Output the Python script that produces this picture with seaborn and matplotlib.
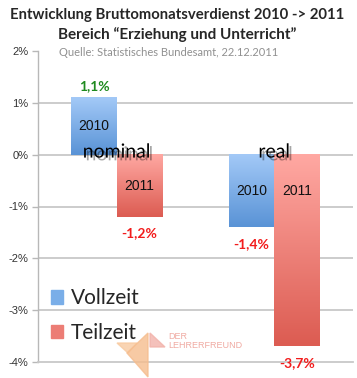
#!/usr/bin/env python3

import numpy as np
import pandas as pd
import matplotlib
matplotlib.use('Agg')
import matplotlib.pyplot as plt
import matplotlib.patheffects as pe
from matplotlib.patches import Polygon
from matplotlib.colors import LinearSegmentedColormap
import seaborn as sns

# data
categories = ['nominal', 'real']
groups = ['Vollzeit', 'Teilzeit']
years = ['2010', '2011']
vollzeit = [1.1, -1.4]
teilzeit = [-1.2, -3.7]
value_labels = {'Vollzeit': ['1,1%', '-1,4%'], 'Teilzeit': ['-1,2%', '-3,7%']}
yticks = [2, 1, 0, -1, -2, -3, -4]

# gradient colours (top, bottom) per group
grad = {'Vollzeit': ('#a3c9f7', '#5993d6'), 'Teilzeit': ('#ffa8a2', '#dc5c52')}

df = pd.DataFrame({
    'Art': categories * 2,
    'Gruppe': [groups[0]] * 2 + [groups[1]] * 2,
    'Wert': vollzeit + teilzeit,
})

sns.set_style('white')
plt.rcParams['font.family'] = ['Liberation Sans', 'DejaVu Sans']

fig = plt.figure(figsize=(3.57, 3.78), dpi=100)
ax = fig.add_axes([38 / 357, 1 - 362 / 378, 315 / 357, 311 / 378])

palette = {g: grad[g][1] for g in groups}
sns.barplot(data=df, x='Art', y='Wert', hue='Gruppe', hue_order=groups,
            palette=palette, width=0.578, gap=0, dodge=True, ax=ax,
            legend=False, zorder=2)

ax.set_xlim(-0.5, 1.5)
ax.set_ylim(-4, 2)

# replace flat bars with vertical gradients (light on top, darker below)
for g, cont in zip(groups, ax.containers):
    cmap = LinearSegmentedColormap.from_list(g, [grad[g][0], grad[g][1]])
    for i, bar in enumerate(cont):
        x0 = bar.get_x()
        x1 = x0 + bar.get_width()
        y0 = min(bar.get_y(), bar.get_y() + bar.get_height())
        y1 = max(bar.get_y(), bar.get_y() + bar.get_height())
        img = np.linspace(0, 1, 100).reshape(-1, 1)
        ax.imshow(img, cmap=cmap, extent=[x0, x1, y0, y1], aspect='auto',
                  zorder=2.5, origin='upper')
        bar.set_alpha(0)
        xc = (x0 + x1) / 2
        v = df[(df['Art'] == categories[i]) & (df['Gruppe'] == g)]['Wert'].iloc[0]
        # year label inside the bar
        ax.text(xc, max(v / 2, -0.7), years[groups.index(g)], ha='center',
                va='center', fontsize=10, color='#111111', zorder=4)
        # value label outside
        if v >= 0:
            ax.annotate(value_labels[g][i], (xc, v), xytext=(0, 8.5),
                        textcoords='offset points', ha='center', va='center',
                        fontsize=10, fontweight='bold', color='#1f8a1f',
                        family=['Lato', 'DejaVu Sans'], zorder=4)
        else:
            ax.annotate(value_labels[g][i], (xc, v), xytext=(0, -12),
                        textcoords='offset points', ha='center', va='center',
                        fontsize=10, fontweight='bold', color='#f21c1c',
                        family=['Lato', 'DejaVu Sans'], zorder=4)

ax.set_xlim(-0.5, 1.5)
ax.set_ylim(-4, 2)

# category names with shadow on the zero line
for i, c in enumerate(categories):
    ax.text(i, 0.05, c, ha='center', va='center', fontsize=14,
            family=['Lato', 'DejaVu Sans'], color='black', zorder=5,
            path_effects=[pe.SimplePatchShadow(offset=(2, -2), alpha=0.35),
                          pe.Normal()])

# grid and axes
for y in yticks:
    if -4 < y < 2:
        ax.axhline(y, color='#c8c8c8', lw=1.3, zorder=1)
ax.set_yticks(yticks)
ax.set_yticklabels([f'{y}%' for y in yticks], fontsize=8, color='#333333')
ax.tick_params(axis='y', left=True, length=4, width=1, color='#b8b8b8', pad=3)
ax.tick_params(axis='x', bottom=False, labelbottom=False)
ax.set_xlabel('')
ax.set_ylabel('')
for s in ['top', 'right']:
    ax.spines[s].set_visible(False)
ax.spines['left'].set_color('#b8b8b8')
ax.spines['left'].set_linewidth(1)
ax.spines['bottom'].set_color('#c8c8c8')
ax.spines['bottom'].set_linewidth(1.3)

# legend
handles = [plt.Rectangle((0, 0), 1, 1, color=grad[g][1]) for g in groups]
handles[0].set_color('#7aaee8')
handles[1].set_color('#ec7d75')
ax.legend(handles, groups, loc='upper left', bbox_to_anchor=(0.041, 0.237),
          frameon=False, handlelength=0.6, handleheight=0.6,
          handletextpad=0.35, labelspacing=0.7, borderpad=0, borderaxespad=0,
          prop={'family': ['Lato', 'DejaVu Sans'], 'size': 15})

# titles
fig.text(177 / 357, 1 - 15 / 378, 'Entwicklung Bruttomonatsverdienst 2010 -> 2011',
         ha='center', va='center', fontsize=10.7, fontweight='bold',
         family=['Lato', 'DejaVu Sans'])
fig.text(177 / 357, 1 - 35 / 378, 'Bereich \u201cErziehung und Unterricht\u201d',
         ha='center', va='center', fontsize=11, fontweight='bold',
         family=['Lato', 'DejaVu Sans'])
fig.text(59 / 357, 1 - 52 / 378, 'Quelle: Statistisches Bundesamt, 22.12.2011',
         ha='left', va='center', fontsize=8, color='#909090',
         family=['Lato', 'DejaVu Sans'])

# watermark logo
def px(pts):
    return [(x / 357, 1 - y / 378) for x, y in pts]

fig.add_artist(Polygon(px([(117, 343), (137, 343), (128, 353)]),
                       closed=True, color='#f8caa0', alpha=0.8, zorder=6))
fig.add_artist(Polygon(px([(148, 333), (148, 377), (127, 353)]),
                       closed=True, color='#f6bd8e', alpha=0.8, zorder=6))
fig.add_artist(Polygon(px([(150, 333), (165, 347), (150, 347)]),
                       closed=True, color='#f2b2aa', alpha=0.8, zorder=6))
fig.text(168 / 357, 1 - 341 / 378, 'DER\nLEHRERFREUND', ha='left', va='center',
         fontsize=6.5, color='#f0aaa2', linespacing=1.0, zorder=6)

fig.savefig('out.png', dpi=100)
